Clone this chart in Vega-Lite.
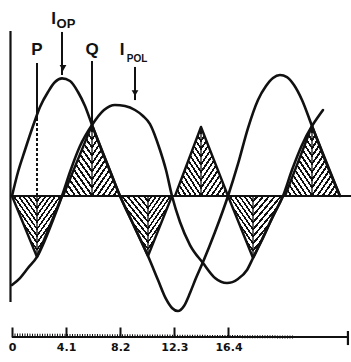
{
  "$schema": "https://vega.github.io/schema/vega-lite/v6.json",
  "width": 351,
  "height": 362,
  "padding": 0,
  "autosize": {"type": "none"},
  "background": "#ffffff",
  "config": {"view": {"stroke": null}},
  "datasets": {
    "waves": [
      {"wave": "I_OP", "t": 0, "v": 0},
      {"wave": "I_OP", "t": 0.455, "v": 0.205},
      {"wave": "I_OP", "t": 0.985, "v": 0.393},
      {"wave": "I_OP", "t": 1.591, "v": 0.598},
      {"wave": "I_OP", "t": 2.121, "v": 0.761},
      {"wave": "I_OP", "t": 2.727, "v": 0.889},
      {"wave": "I_OP", "t": 3.258, "v": 0.974},
      {"wave": "I_OP", "t": 3.788, "v": 1.005},
      {"wave": "I_OP", "t": 4.394, "v": 0.983},
      {"wave": "I_OP", "t": 5.0, "v": 0.889},
      {"wave": "I_OP", "t": 5.53, "v": 0.769},
      {"wave": "I_OP", "t": 6.061, "v": 0.607},
      {"wave": "I_OP", "t": 6.667, "v": 0.427},
      {"wave": "I_OP", "t": 7.424, "v": 0.214},
      {"wave": "I_OP", "t": 8.182, "v": 0},
      {"wave": "I_OP", "t": 9.242, "v": -0.256},
      {"wave": "I_OP", "t": 10.303, "v": -0.513},
      {"wave": "I_OP", "t": 11.061, "v": -0.718},
      {"wave": "I_OP", "t": 11.667, "v": -0.88},
      {"wave": "I_OP", "t": 12.121, "v": -0.957},
      {"wave": "I_OP", "t": 12.576, "v": -0.983},
      {"wave": "I_OP", "t": 13.03, "v": -0.94},
      {"wave": "I_OP", "t": 13.485, "v": -0.829},
      {"wave": "I_OP", "t": 13.939, "v": -0.701},
      {"wave": "I_OP", "t": 14.47, "v": -0.564},
      {"wave": "I_OP", "t": 15.379, "v": -0.308},
      {"wave": "I_OP", "t": 16.364, "v": 0},
      {"wave": "I_OP", "t": 17.121, "v": 0.274},
      {"wave": "I_OP", "t": 17.879, "v": 0.581},
      {"wave": "I_OP", "t": 18.636, "v": 0.821},
      {"wave": "I_OP", "t": 19.242, "v": 0.94},
      {"wave": "I_OP", "t": 19.773, "v": 1.009},
      {"wave": "I_OP", "t": 20.303, "v": 1.034},
      {"wave": "I_OP", "t": 20.833, "v": 1.017},
      {"wave": "I_OP", "t": 21.364, "v": 0.949},
      {"wave": "I_OP", "t": 21.97, "v": 0.821},
      {"wave": "I_OP", "t": 22.727, "v": 0.598},
      {"wave": "I_OP", "t": 23.712, "v": 0.308},
      {"wave": "I_OP", "t": 24.848, "v": 0},
      {"wave": "I_POL", "t": 0, "v": -0.761},
      {"wave": "I_POL", "t": 0.606, "v": -0.701},
      {"wave": "I_POL", "t": 1.212, "v": -0.615},
      {"wave": "I_POL", "t": 1.894, "v": -0.521},
      {"wave": "I_POL", "t": 2.5, "v": -0.376},
      {"wave": "I_POL", "t": 3.106, "v": -0.205},
      {"wave": "I_POL", "t": 3.788, "v": 0},
      {"wave": "I_POL", "t": 4.394, "v": 0.205},
      {"wave": "I_POL", "t": 5.152, "v": 0.427},
      {"wave": "I_POL", "t": 6.061, "v": 0.607},
      {"wave": "I_POL", "t": 6.97, "v": 0.735},
      {"wave": "I_POL", "t": 7.803, "v": 0.778},
      {"wave": "I_POL", "t": 8.561, "v": 0.769},
      {"wave": "I_POL", "t": 9.318, "v": 0.735},
      {"wave": "I_POL", "t": 9.924, "v": 0.684},
      {"wave": "I_POL", "t": 10.455, "v": 0.615},
      {"wave": "I_POL", "t": 11.212, "v": 0.393},
      {"wave": "I_POL", "t": 11.667, "v": 0.222},
      {"wave": "I_POL", "t": 12.121, "v": 0},
      {"wave": "I_POL", "t": 12.727, "v": -0.222},
      {"wave": "I_POL", "t": 13.485, "v": -0.419},
      {"wave": "I_POL", "t": 14.47, "v": -0.573},
      {"wave": "I_POL", "t": 15.379, "v": -0.701},
      {"wave": "I_POL", "t": 16.288, "v": -0.744},
      {"wave": "I_POL", "t": 17.121, "v": -0.709},
      {"wave": "I_POL", "t": 17.803, "v": -0.632},
      {"wave": "I_POL", "t": 18.258, "v": -0.53},
      {"wave": "I_POL", "t": 18.939, "v": -0.376},
      {"wave": "I_POL", "t": 19.697, "v": -0.188},
      {"wave": "I_POL", "t": 20.53, "v": 0},
      {"wave": "I_POL", "t": 21.212, "v": 0.222},
      {"wave": "I_POL", "t": 21.97, "v": 0.436},
      {"wave": "I_POL", "t": 22.727, "v": 0.598},
      {"wave": "I_POL", "t": 23.182, "v": 0.675},
      {"wave": "I_POL", "t": 23.561, "v": 0.735}
    ],
    "triangles": [
      {"tri": 1, "half": "L", "t": 0, "v": 0},
      {"tri": 1, "half": "L", "t": 1.894, "v": -0.521},
      {"tri": 1, "half": "R", "t": 1.894, "v": -0.521},
      {"tri": 1, "half": "R", "t": 3.788, "v": 0},
      {"tri": 2, "half": "L", "t": 3.864, "v": 0},
      {"tri": 2, "half": "L", "t": 6.061, "v": 0.607},
      {"tri": 2, "half": "R", "t": 6.061, "v": 0.607},
      {"tri": 2, "half": "R", "t": 8.182, "v": 0},
      {"tri": 3, "half": "L", "t": 8.182, "v": 0},
      {"tri": 3, "half": "L", "t": 10.303, "v": -0.513},
      {"tri": 3, "half": "R", "t": 10.303, "v": -0.513},
      {"tri": 3, "half": "R", "t": 12.121, "v": 0},
      {"tri": 4, "half": "L", "t": 12.348, "v": 0},
      {"tri": 4, "half": "L", "t": 14.318, "v": 0.59},
      {"tri": 4, "half": "R", "t": 14.318, "v": 0.59},
      {"tri": 4, "half": "R", "t": 16.364, "v": 0},
      {"tri": 5, "half": "L", "t": 16.364, "v": 0},
      {"tri": 5, "half": "L", "t": 18.258, "v": -0.53},
      {"tri": 5, "half": "R", "t": 18.258, "v": -0.53},
      {"tri": 5, "half": "R", "t": 20.53, "v": 0},
      {"tri": 6, "half": "L", "t": 20.682, "v": 0},
      {"tri": 6, "half": "L", "t": 22.727, "v": 0.598},
      {"tri": 6, "half": "R", "t": 22.727, "v": 0.598},
      {"tri": 6, "half": "R", "t": 24.848, "v": 0}
    ],
    "frame": [
      {"part": "zero line", "t": -0.11, "t2": 25.682, "v": 0, "v2": 0},
      {"part": "vertical", "t": -0.114, "t2": -0.114, "v": 1.41, "v2": -0.906},
      {"part": "time base", "t": 0, "t2": 25.45, "v": -1.2051, "v2": -1.2051},
      {"part": "time end", "t": 25.45, "t2": 25.45, "v": -1.154, "v2": -1.274}
    ],
    "markers": [
      {"mark": "P", "t": 1.894, "v": 1.137, "v2": 0.667},
      {"mark": "Q", "t": 6.061, "v": 1.154, "v2": 0.607},
      {"mark": "I_OP arrow", "t": 3.788, "v": 1.402, "v2": 1.034},
      {"mark": "I_POL arrow", "t": 9.318, "v": 1.103, "v2": 0.82}
    ],
    "dashes": [
      {"mark": "P", "t": 1.894, "v": 0.667, "v2": 0}
    ],
    "tips": [
      {"mark": "I_OP arrow", "t": 3.864, "v": 1.094},
      {"mark": "I_POL arrow", "t": 9.318, "v": 0.88}
    ],
    "letters": [
      {"text": "P", "t": 1.894, "v": 1.248},
      {"text": "Q", "t": 6.061, "v": 1.248},
      {"text": "I", "t": 3.144, "v": 1.513},
      {"text": "I", "t": 8.333, "v": 1.248}
    ],
    "subOP": [
      {"text": "OP", "t": 4.091, "v": 1.47}
    ],
    "subPOL": [
      {"text": "POL", "t": 9.47, "v": 1.175}
    ]
  },
  "encoding": {
    "x": {
      "field": "t",
      "type": "quantitative",
      "scale": {"domain": [-0.909, 25.682], "nice": false, "zero": false},
      "axis": {
        "values": [0, 4.1, 8.2, 12.3, 16.4],
        "format": ".1~f",
        "title": null,
        "domain": false,
        "grid": false,
        "offset": -25,
        "tickSize": -10,
        "tickWidth": 2,
        "tickColor": "#111111",
        "labelFont": "DejaVu Sans",
        "labelFontWeight": "bold",
        "labelFontSize": 11,
        "labelColor": "#111111",
        "labelPadding": 14,
        "labelFlush": false,
        "labelOverlap": false
      }
    },
    "y": {
      "field": "v",
      "type": "quantitative",
      "scale": {"domain": [-1.4188, 1.6752], "nice": false, "zero": false},
      "axis": null
    }
  },
  "layer": [
    {
      "data": {"name": "triangles"},
      "transform": [{"filter": "datum.half === 'L'"}],
      "mark": {
        "type": "area",
        "stroke": null,
        "fill": {
          "gradient": "linear",
          "x1": 1, "y1": 0, "x2": 0.3143, "y2": 1.1823,
          "stops": [
            {"offset": 0, "color": "#ffffff"}, {"offset": 0.0429, "color": "#ffffff"}, {"offset": 0.0429, "color": "#111111"}, {"offset": 0.0714, "color": "#111111"},
            {"offset": 0.0714, "color": "#ffffff"}, {"offset": 0.1143, "color": "#ffffff"}, {"offset": 0.1143, "color": "#111111"}, {"offset": 0.1429, "color": "#111111"},
            {"offset": 0.1429, "color": "#ffffff"}, {"offset": 0.1857, "color": "#ffffff"}, {"offset": 0.1857, "color": "#111111"}, {"offset": 0.2143, "color": "#111111"},
            {"offset": 0.2143, "color": "#ffffff"}, {"offset": 0.2571, "color": "#ffffff"}, {"offset": 0.2571, "color": "#111111"}, {"offset": 0.2857, "color": "#111111"},
            {"offset": 0.2857, "color": "#ffffff"}, {"offset": 0.3286, "color": "#ffffff"}, {"offset": 0.3286, "color": "#111111"}, {"offset": 0.3571, "color": "#111111"},
            {"offset": 0.3571, "color": "#ffffff"}, {"offset": 0.4, "color": "#ffffff"}, {"offset": 0.4, "color": "#111111"}, {"offset": 0.4286, "color": "#111111"},
            {"offset": 0.4286, "color": "#ffffff"}, {"offset": 0.4714, "color": "#ffffff"}, {"offset": 0.4714, "color": "#111111"}, {"offset": 0.5, "color": "#111111"},
            {"offset": 0.5, "color": "#ffffff"}, {"offset": 0.5429, "color": "#ffffff"}, {"offset": 0.5429, "color": "#111111"}, {"offset": 0.5714, "color": "#111111"},
            {"offset": 0.5714, "color": "#ffffff"}, {"offset": 0.6143, "color": "#ffffff"}, {"offset": 0.6143, "color": "#111111"}, {"offset": 0.6429, "color": "#111111"},
            {"offset": 0.6429, "color": "#ffffff"}, {"offset": 0.6857, "color": "#ffffff"}, {"offset": 0.6857, "color": "#111111"}, {"offset": 0.7143, "color": "#111111"},
            {"offset": 0.7143, "color": "#ffffff"}, {"offset": 0.7571, "color": "#ffffff"}, {"offset": 0.7571, "color": "#111111"}, {"offset": 0.7857, "color": "#111111"},
            {"offset": 0.7857, "color": "#ffffff"}, {"offset": 0.8286, "color": "#ffffff"}, {"offset": 0.8286, "color": "#111111"}, {"offset": 0.8571, "color": "#111111"},
            {"offset": 0.8571, "color": "#ffffff"}, {"offset": 0.9, "color": "#ffffff"}, {"offset": 0.9, "color": "#111111"}, {"offset": 0.9286, "color": "#111111"},
            {"offset": 0.9286, "color": "#ffffff"}, {"offset": 0.9714, "color": "#ffffff"}, {"offset": 0.9714, "color": "#111111"}, {"offset": 1, "color": "#111111"}
          ]
        }
      },
      "encoding": {
        "y2": {"datum": 0},
        "detail": {"field": "tri", "type": "nominal"}
      }
    },
    {
      "data": {"name": "triangles"},
      "transform": [{"filter": "datum.half === 'R'"}],
      "mark": {
        "type": "area",
        "stroke": null,
        "fill": {
          "gradient": "linear",
          "x1": 0, "y1": 0, "x2": 0.6857, "y2": 1.1823,
          "stops": [
            {"offset": 0, "color": "#ffffff"}, {"offset": 0.0429, "color": "#ffffff"}, {"offset": 0.0429, "color": "#111111"}, {"offset": 0.0714, "color": "#111111"},
            {"offset": 0.0714, "color": "#ffffff"}, {"offset": 0.1143, "color": "#ffffff"}, {"offset": 0.1143, "color": "#111111"}, {"offset": 0.1429, "color": "#111111"},
            {"offset": 0.1429, "color": "#ffffff"}, {"offset": 0.1857, "color": "#ffffff"}, {"offset": 0.1857, "color": "#111111"}, {"offset": 0.2143, "color": "#111111"},
            {"offset": 0.2143, "color": "#ffffff"}, {"offset": 0.2571, "color": "#ffffff"}, {"offset": 0.2571, "color": "#111111"}, {"offset": 0.2857, "color": "#111111"},
            {"offset": 0.2857, "color": "#ffffff"}, {"offset": 0.3286, "color": "#ffffff"}, {"offset": 0.3286, "color": "#111111"}, {"offset": 0.3571, "color": "#111111"},
            {"offset": 0.3571, "color": "#ffffff"}, {"offset": 0.4, "color": "#ffffff"}, {"offset": 0.4, "color": "#111111"}, {"offset": 0.4286, "color": "#111111"},
            {"offset": 0.4286, "color": "#ffffff"}, {"offset": 0.4714, "color": "#ffffff"}, {"offset": 0.4714, "color": "#111111"}, {"offset": 0.5, "color": "#111111"},
            {"offset": 0.5, "color": "#ffffff"}, {"offset": 0.5429, "color": "#ffffff"}, {"offset": 0.5429, "color": "#111111"}, {"offset": 0.5714, "color": "#111111"},
            {"offset": 0.5714, "color": "#ffffff"}, {"offset": 0.6143, "color": "#ffffff"}, {"offset": 0.6143, "color": "#111111"}, {"offset": 0.6429, "color": "#111111"},
            {"offset": 0.6429, "color": "#ffffff"}, {"offset": 0.6857, "color": "#ffffff"}, {"offset": 0.6857, "color": "#111111"}, {"offset": 0.7143, "color": "#111111"},
            {"offset": 0.7143, "color": "#ffffff"}, {"offset": 0.7571, "color": "#ffffff"}, {"offset": 0.7571, "color": "#111111"}, {"offset": 0.7857, "color": "#111111"},
            {"offset": 0.7857, "color": "#ffffff"}, {"offset": 0.8286, "color": "#ffffff"}, {"offset": 0.8286, "color": "#111111"}, {"offset": 0.8571, "color": "#111111"},
            {"offset": 0.8571, "color": "#ffffff"}, {"offset": 0.9, "color": "#ffffff"}, {"offset": 0.9, "color": "#111111"}, {"offset": 0.9286, "color": "#111111"},
            {"offset": 0.9286, "color": "#ffffff"}, {"offset": 0.9714, "color": "#ffffff"}, {"offset": 0.9714, "color": "#111111"}, {"offset": 1, "color": "#111111"}
          ]
        }
      },
      "encoding": {
        "y2": {"datum": 0},
        "detail": {"field": "tri", "type": "nominal"}
      }
    },
    {
      "data": {"name": "triangles"},
      "transform": [{"filter": "datum.half === 'L' && datum.v !== 0"}],
      "mark": {"type": "rule", "color": "#111111", "strokeWidth": 1.3},
      "encoding": {"y2": {"datum": 0}}
    },
    {
      "data": {"name": "triangles"},
      "mark": {"type": "line", "color": "#111111", "strokeWidth": 2.4, "strokeJoin": "round"},
      "encoding": {
        "detail": {"field": "tri", "type": "nominal"},
        "order": {"field": "t", "type": "quantitative"}
      }
    },
    {
      "data": {"name": "frame"},
      "mark": {"type": "rule", "color": "#111111", "strokeWidth": 2.2},
      "encoding": {
        "x2": {"field": "t2"},
        "y2": {"field": "v2"}
      }
    },
    {
      "data": {"name": "frame"},
      "transform": [{"filter": "datum.part === 'time base'"}],
      "mark": {"type": "rule", "color": "#111111", "strokeWidth": 3, "strokeDash": [1, 1.5], "yOffset": -2},
      "encoding": {
        "x2": {"datum": 21.3},
        "y2": {"field": "v2"}
      }
    },
    {
      "data": {"name": "waves"},
      "mark": {"type": "line", "color": "#111111", "strokeWidth": 2.6, "interpolate": "monotone", "strokeCap": "round"},
      "encoding": {
        "detail": {"field": "wave", "type": "nominal"},
        "order": {"field": "t", "type": "quantitative"}
      }
    },
    {
      "data": {"name": "markers"},
      "mark": {"type": "rule", "color": "#111111", "strokeWidth": 2},
      "encoding": {"y2": {"field": "v2"}}
    },
    {
      "data": {"name": "dashes"},
      "mark": {"type": "rule", "color": "#111111", "strokeWidth": 2, "strokeDash": [3, 2]},
      "encoding": {"y2": {"field": "v2"}}
    },
    {
      "data": {"name": "tips"},
      "mark": {"type": "point", "shape": "triangle-down", "filled": true, "color": "#111111", "size": 45, "opacity": 1},
      "encoding": {}
    },
    {
      "data": {"name": "letters"},
      "mark": {"type": "text", "font": "Liberation Sans", "fontWeight": "bold", "fontSize": 17, "color": "#111111", "align": "center", "baseline": "middle"},
      "encoding": {"text": {"field": "text"}}
    },
    {
      "data": {"name": "subOP"},
      "mark": {"type": "text", "font": "Liberation Sans", "fontWeight": "bold", "fontSize": 13, "color": "#111111", "align": "center", "baseline": "middle"},
      "encoding": {"text": {"field": "text"}}
    },
    {
      "data": {"name": "subPOL"},
      "mark": {"type": "text", "font": "Liberation Sans", "fontWeight": "bold", "fontSize": 10, "color": "#111111", "align": "center", "baseline": "middle"},
      "encoding": {"text": {"field": "text"}}
    }
  ]
}
